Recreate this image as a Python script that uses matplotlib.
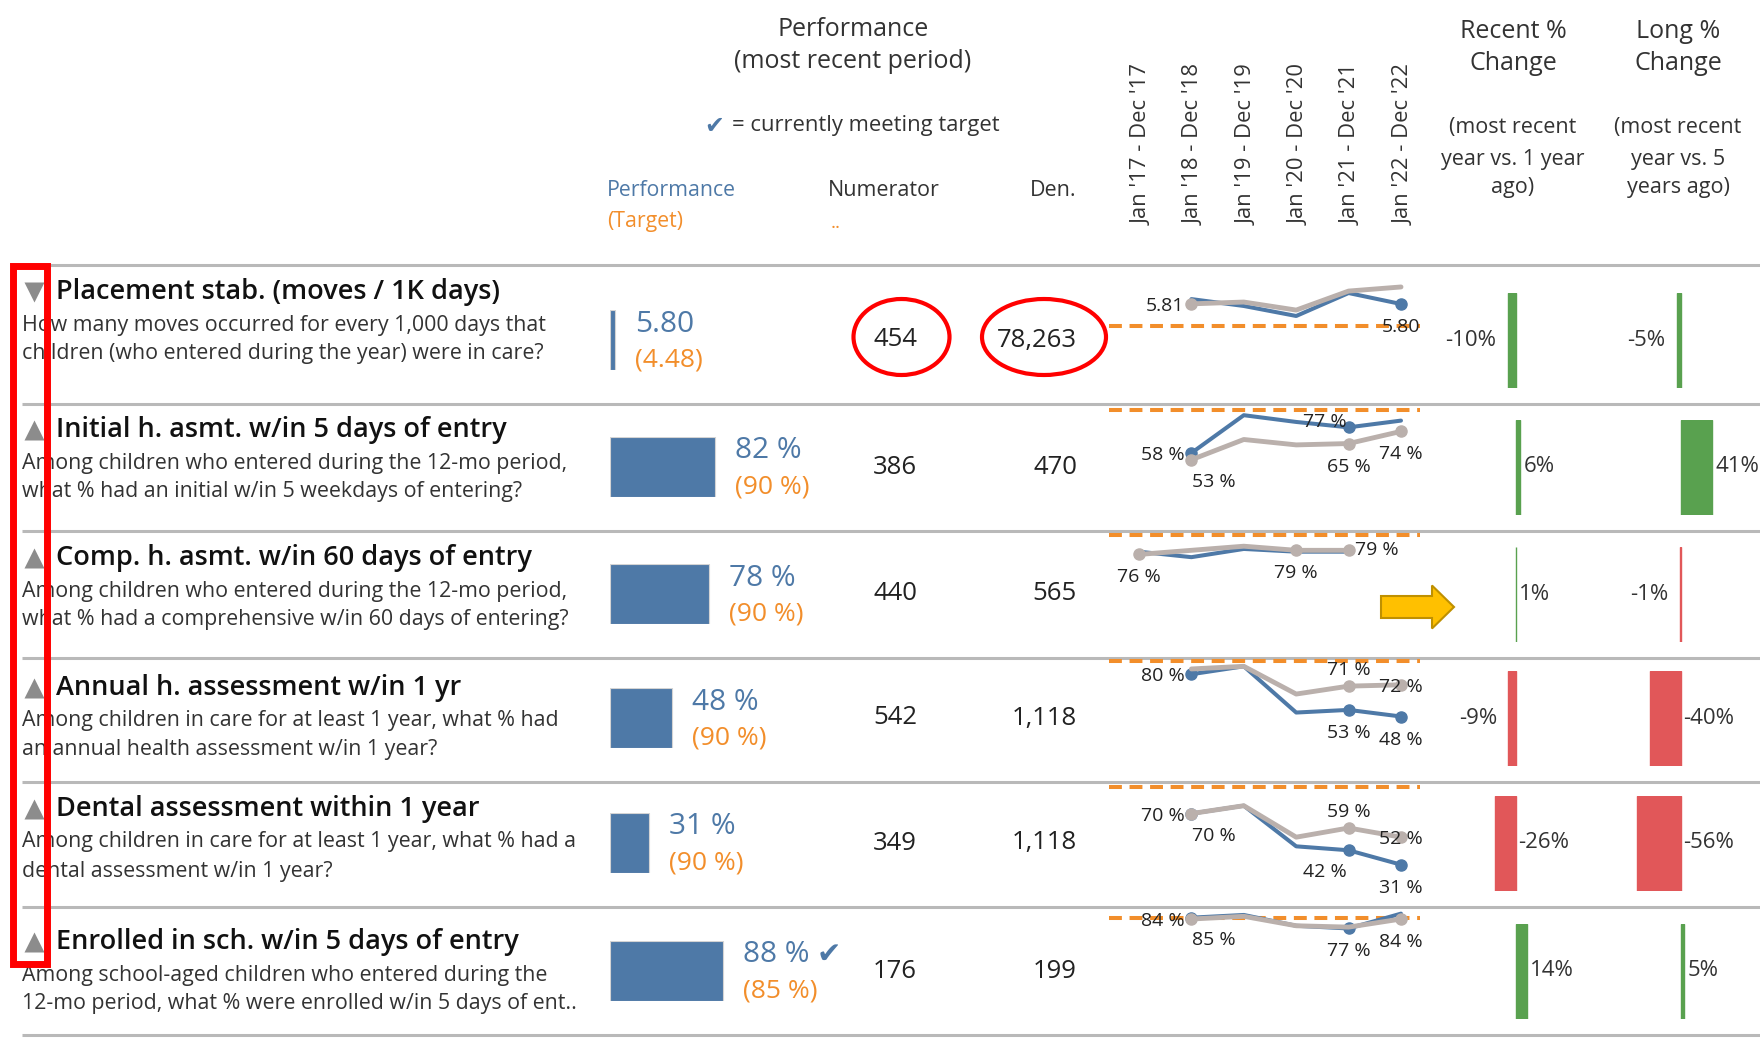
import numpy as np
import matplotlib
matplotlib.use('Agg')
import matplotlib.pyplot as plt
import matplotlib.patches as mpatches

plt.rcParams['font.family'] = ['Open Sans', 'DejaVu Sans']

W, H = 1760, 1038
nan = np.nan

# ---------------- data ----------------
titles = ["Placement stab. (moves / 1K days)",
          "Initial h. asmt. w/in 5 days of entry",
          "Comp. h. asmt. w/in 60 days of entry",
          "Annual h. assessment w/in 1 yr",
          "Dental assessment within 1 year",
          "Enrolled in sch. w/in 5 days of entry"]
descriptions = [("How many moves occurred for every 1,000 days that",
                 "children (who entered during the year) were in care?"),
                ("Among children who entered during the 12-mo period,",
                 "what % had an initial w/in 5 weekdays of entering?"),
                ("Among children who entered during the 12-mo period,",
                 "what % had a comprehensive w/in 60 days of entering?"),
                ("Among children in care for at least 1 year, what % had",
                 "an annual health assessment w/in 1 year?"),
                ("Among children in care for at least 1 year, what % had a",
                 "dental assessment w/in 1 year?"),
                ("Among school-aged children who entered during the",
                 "12-mo period, what % were enrolled w/in 5 days of ent..")]
lower_is_better = [True, False, False, False, False, False]
is_rate = [True, False, False, False, False, False]
perf_values = [5.80, 82, 78, 48, 31, 88]
targets = [4.48, 90, 90, 90, 90, 85]
numerators = [454, 386, 440, 542, 349, 176]
denominators = [78263, 470, 565, 1118, 1118, 199]
meets_target = [False, False, False, False, False, True]

periods = ["Jan '17 - Dec '17", "Jan '18 - Dec '18", "Jan '19 - Dec '19",
           "Jan '20 - Dec '20", "Jan '21 - Dec '21", "Jan '22 - Dec '22"]
trend_blue = [[nan, 6.10, 5.68, 5.07, 6.47, 5.80],
              [nan, 58, 86, 81, 77, 82],
              [78, 74, 80, 78, 78, nan],
              [nan, 80, 86, 51, 53, 48],
              [nan, 70, 76, 45, 42, 31],
              [nan, 85, 87, 79, 77, 88]]
trend_gray = [[nan, 5.81, 5.92, 5.43, 6.59, 6.84],
              [nan, 53, 68, 64, 65, 74],
              [76, 79, 82, 79, 79, nan],
              [nan, 84, 86, 65, 71, 72],
              [nan, 70, 76, 52, 59, 52],
              [nan, 84, 86, 79, 78, 84]]
# labelled points: (series, period index, placement)
trend_labels = [
    [('gray', 1, 'left'), ('blue', 5, 'below')],
    [('blue', 1, 'left'), ('gray', 1, 'below_right'), ('blue', 4, 'above_left'),
     ('gray', 4, 'below'), ('gray', 5, 'below')],
    [('gray', 0, 'below'), ('gray', 3, 'below'), ('gray', 4, 'right')],
    [('blue', 1, 'left'), ('gray', 4, 'above'), ('gray', 5, 'center'),
     ('blue', 4, 'below'), ('blue', 5, 'below')],
    [('gray', 1, 'left'), ('blue', 1, 'below_right'), ('gray', 4, 'above'),
     ('gray', 5, 'center'), ('blue', 4, 'below_left'), ('blue', 5, 'below')],
    [('gray', 1, 'left'), ('blue', 1, 'below_right'), ('blue', 4, 'below'),
     ('gray', 5, 'below')],
]
recent_change = [-10, 6, 1, -9, -26, 14]
long_change = [-5, 41, -1, -40, -56, 5]

# ---------------- layout / style ----------------
BLUE = '#4e79a7'
GRAY_LINE = '#bab0ac'
ORANGE = '#f28e2b'
GREEN = '#59a14f'
RED = '#e15759'
TXT = '#333333'
SEP = '#b9b9b9'

row_edges = [265, 404, 531, 658, 782, 907, 1035]
text_shift = [1, 0, 1, 3.5, 1, 9]
spark_ylims = [(-0.3, 8.18), (0.2, 94.3), (0.4, 93.1), (-1.6, 92.3), (-1.3, 94.1), (-1.9, 92.9)]
SPARK_X0, SPARK_X1 = 1109, 1420
PERIOD_X0, PERIOD_STEP = 1139, 52.4
label_offsets = {'left': (-7, -2, 'right'), 'below': (0, -23, 'center'),
                 'below_right': (1, -22, 'left'), 'above_left': (-2, 5, 'right'),
                 'above': (0, 16, 'center'), 'center': (0, -2, 'center'),
                 'right': (6, 0, 'left'), 'below_left': (-2, -22, 'right')}

fig = plt.figure(figsize=(W / 100, H / 100), dpi=100)
fig.patch.set_facecolor('white')


def px_axes(x0, y0, x1, y1):
    ax = fig.add_axes([x0 / W, 1 - y1 / H, (x1 - x0) / W, (y1 - y0) / H])
    ax.set_facecolor('none')
    ax.axis('off')
    return ax


ax0 = px_axes(0, 0, W, H)
ax0.set_xlim(0, W)
ax0.set_ylim(H, 0)

# headers
ax0.text(853, 30, "Performance", ha='center', va='center', fontsize=18, color=TXT)
ax0.text(853, 62, "(most recent period)", ha='center', va='center', fontsize=18, color=TXT)
ax0.text(704, 126, "\u2714", ha='left', va='center', fontsize=17, color=BLUE,
         family=['DejaVu Sans'])
ax0.text(732, 126, "= currently meeting target", ha='left', va='center', fontsize=15.8,
         color=TXT)
ax0.text(607, 190, "Performance", ha='left', va='center', fontsize=15.3, color=BLUE)
ax0.text(607, 221, "(Target)", ha='left', va='center', fontsize=15.3, color=ORANGE)
ax0.text(828, 190, "Numerator", ha='left', va='center', fontsize=15.5, color=TXT)
ax0.text(831, 223, "..", ha='left', va='center', fontsize=14, color=ORANGE)
ax0.text(1077, 190, "Den.", ha='right', va='center', fontsize=15.5, color=TXT)
for k, lab in enumerate(periods):
    ax0.text(PERIOD_X0 + 3 + k * PERIOD_STEP, 225, lab, rotation=90, ha='center', va='bottom',
             fontsize=15.8, color=TXT)
for cx, lines in [(1513, ["Recent %", "Change", "(most recent", "year vs. 1 year", "ago)"]),
                  (1678, ["Long %", "Change", "(most recent", "year vs. 5", "years ago)"])]:
    for k, (ln, yy) in enumerate(zip(lines, [31, 63, 128, 159, 188])):
        ax0.text(cx, yy, ln, ha='center', va='center', fontsize=18 if k < 2 else 15.5,
                 color=TXT)

for i in range(len(titles)):
    top, bot = row_edges[i], row_edges[i + 1]
    mid = bot - 64
    ts = top + text_shift[i]
    ax0.hlines(top, 22, W, color=SEP, lw=2.2)

    # name and question
    ax0.plot(34, ts + 26, marker='v' if lower_is_better[i] else '^', ms=15,
             color='#8c8c8c', mec='none')
    ax0.text(56, ts + 26, titles[i], ha='left', va='center', fontsize=19.5,
             fontweight='semibold', color='#111111')
    ax0.text(22, ts + 59, descriptions[i][0], ha='left', va='center', fontsize=15.4, color=TXT)
    ax0.text(22, ts + 88, descriptions[i][1], ha='left', va='center', fontsize=15.4, color=TXT)

    # performance bar
    frac = numerators[i] / denominators[i]
    axb = px_axes(609.5, mid - 30, 609.5 + 128, mid + 30)
    axb.set_xlim(0, 1)
    axb.set_ylim(-0.5, 0.5)
    wbar = max(frac, 0.045)
    axb.barh(0, wbar, height=1, color=BLUE, edgecolor='#d4d4d4', lw=0.8)
    if is_rate[i]:
        ptxt, ttxt = f"{perf_values[i]:.2f}", f"({targets[i]:.2f})"
    else:
        ptxt, ttxt = f"{perf_values[i]:.0f} %", f"({targets[i]:.0f} %)"
    axb.annotate(ptxt, xy=(wbar, 0), xytext=(20, 16), textcoords='offset pixels',
                 ha='left', va='center', fontsize=21.5, color=BLUE, annotation_clip=False)
    if meets_target[i]:
        axb.annotate("\u2714", xy=(wbar, 0), xytext=(94, 16), textcoords='offset pixels',
                     ha='left', va='center', fontsize=21, color=BLUE,
                     family=['DejaVu Sans'], annotation_clip=False)
    axb.annotate(ttxt, xy=(wbar, 0), xytext=(20, -20), textcoords='offset pixels',
                 ha='left', va='center', fontsize=19, color=ORANGE, annotation_clip=False)

    ax0.text(873, mid, f"{numerators[i]:,}", ha='left', va='center', fontsize=18.5,
             color='#222222')
    ax0.text(1077, mid, f"{denominators[i]:,}", ha='right', va='center', fontsize=18.5,
             color='#222222')

    # sparkline
    axs = px_axes(SPARK_X0, top, SPARK_X1, bot)
    axs.set_xlim((SPARK_X0 - PERIOD_X0) / PERIOD_STEP, (SPARK_X1 - PERIOD_X0) / PERIOD_STEP)
    axs.set_ylim(*spark_ylims[i])
    xs = np.arange(len(periods))
    axs.axhline(targets[i], color=ORANGE, lw=2.9, dashes=(3.2, 1.9), zorder=1)
    series = {'blue': (np.array(trend_blue[i], float), BLUE, 2.9, 3),
              'gray': (np.array(trend_gray[i], float), GRAY_LINE, 3.5, 4)}
    for name, (vals, col, lw, zo) in series.items():
        axs.plot(xs, vals, color=col, lw=lw, solid_capstyle='round', zorder=zo)
    fmt = "{:.2f}" if is_rate[i] else "{:.0f} %"
    for name, k, place in trend_labels[i]:
        vals, col, lw, zo = series[name]
        axs.plot(xs[k], vals[k], 'o', ms=8, color=col, zorder=zo + 0.5)
        dx, dy, ha = label_offsets[place]
        axs.annotate(fmt.format(vals[k]), xy=(xs[k], vals[k]), xytext=(dx, dy),
                     textcoords='offset pixels', ha=ha, va='center', fontsize=14,
                     color='#222222', annotation_clip=False, zorder=6)

    # change bars
    for base, scale, val in [(1515.5, 0.80, recent_change[i]), (1680.5, 0.77, long_change[i])]:
        axc = px_axes(base - 60, mid - 47.5, base + 60, mid + 47.5)
        axc.set_xlim(-60 / scale, 60 / scale)
        axc.set_ylim(-0.5, 0.5)
        good = (val < 0) == lower_is_better[i]
        col = GREEN if good else RED
        axc.barh(0, val, height=1, color=col, edgecolor=col, lw=1.0)
        if -20 < val < 0:
            axc.annotate(f"{val}%", xy=(val, 0), xytext=(-11, 0), textcoords='offset pixels',
                         ha='right', va='center', fontsize=16, color=TXT, annotation_clip=False)
        else:
            axc.annotate(f"{val}%", xy=(max(val, 0), 0), xytext=(3, 0),
                         textcoords='offset pixels', ha='left', va='center', fontsize=16,
                         color=TXT, annotation_clip=False)

ax0.hlines(row_edges[-1], 22, W, color=SEP, lw=2.2)

# overlay annotations (red highlights and arrow)
ov = px_axes(0, 0, W, H)
ov.set_xlim(0, W)
ov.set_ylim(H, 0)
ov.add_patch(mpatches.Rectangle((12.5, 266), 34.5, 698, fill=False, ec='#ff0000', lw=5))
ov.add_patch(mpatches.Ellipse((901.5, 337), 96, 76, fill=False, ec='#ff0000', lw=3))
ov.add_patch(mpatches.Ellipse((1044, 337), 124, 76, fill=False, ec='#ff0000', lw=3))
ov.add_patch(mpatches.FancyArrow(1381, 607, 73, 0, width=22, head_width=43, head_length=22,
                                 length_includes_head=True, fc='#ffc000', ec='#bf9000', lw=1.5))

fig.savefig('out.png', dpi=100, facecolor='white')
